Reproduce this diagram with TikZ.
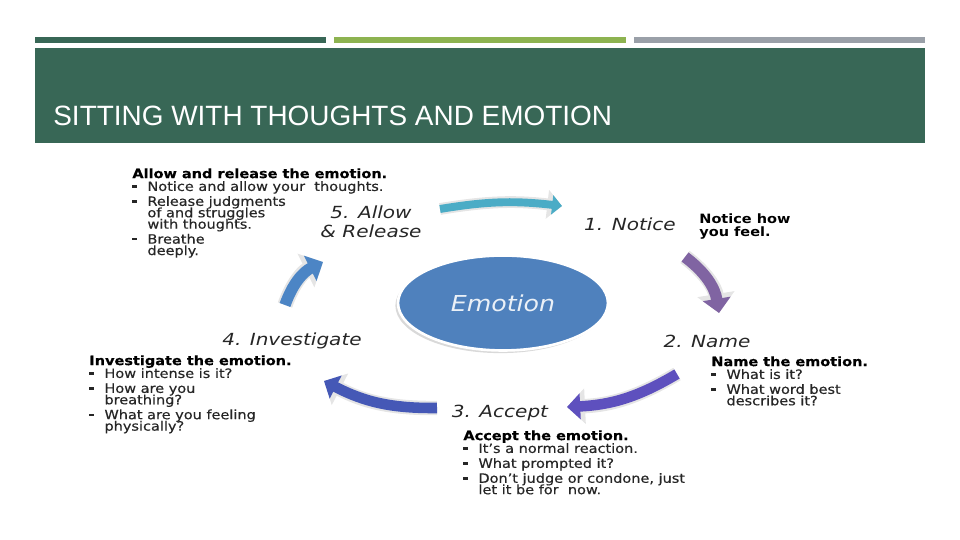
\documentclass[tikz,border=0pt]{standalone}
\usepackage{fontspec}
\setmainfont{DejaVu Sans}
\newfontfamily\titlefont{Liberation Sans}
\newfontfamily\bodyfont[FakeBold=0.4]{DejaVu Sans}
\usetikzlibrary{arrows.meta, shapes.geometric}
\setlength{\lineskiplimit}{-10pt}

\definecolor{banner}{HTML}{386756}
\definecolor{barlime}{HTML}{8DB350}
\definecolor{bargrey}{HTML}{9AA0A8}
\definecolor{emoblue}{HTML}{4F81BD}
\definecolor{tealarr}{HTML}{4BACC6}
\definecolor{purparr}{HTML}{8064A2}
\definecolor{violarr}{HTML}{5E50BE}
\definecolor{indarr}{HTML}{4558B6}
\definecolor{bluearr}{HTML}{4C85C5}

\newcommand{\blt}{\makebox[7.6pt][l]{\raisebox{1.8pt}{\rule{2.1pt}{1.4pt}}}}
\newcommand{\ind}{\hspace*{7.6pt}}
\newcommand{\hdr}[1]{\textbf{\color{black}#1}}

\begin{document}
\begin{tikzpicture}[x=0.02cm, y=0.02cm,
  every node/.style={inner sep=0pt},
  steplabel/.style={font=\fontsize{9.5}{11}\selectfont\itshape, text=black!85,
    align=center, xscale=1.2, transform shape},
  infobox/.style={anchor=north west, align=left, text=black!85,
    font=\bodyfont\fontsize{7.3}{6.5}\selectfont, xscale=1.13, transform shape},
  curvearrow/.style={line width=#1, -{Triangle[length=0pt 1.25, width=0pt 2.4]},
    preaction={draw=black!10, line width=#1+2.2pt}}]
  \useasboundingbox (0,0) rectangle (960,540);

  % banner
  \fill[banner] (35,497) rectangle (326,503);
  \fill[barlime] (334,497) rectangle (626,503);
  \fill[bargrey] (634,497) rectangle (925,503);
  \fill[banner] (35,397) rectangle (925,492);
  \node[anchor=base west, text=white, font=\titlefont\fontsize{15.9}{16}\selectfont]
    (title) at (53,414) {SITTING WITH THOUGHTS AND EMOTION};

  % centre
  \node[ellipse, fill=emoblue, draw=white, line width=1.5pt,
    minimum width=4.2cm, minimum height=1.9cm, text=white!88!emoblue,
    font=\fontsize{12.5}{13}\selectfont\itshape,
    preaction={fill=black!15, transform canvas={shift={(-1.5pt,-1.5pt)}}}]
    (emo) at (503,237) {\scalebox{1.15}[1]{Emotion}};

  % step labels
  \node[steplabel] (notice) at (630,316) {1. Notice};
  \node[steplabel] (name) at (707,199) {2. Name};
  \node[steplabel] (accept) at (500,127) {3. Accept};
  \node[steplabel] (invest) at (292,199) {4. Investigate};
  \node[steplabel] (allow) at (371,318) {5. Allow\\\& Release};

  % text blocks
  \node[infobox, font=\fontsize{7.3}{7.9}\selectfont\bfseries, text=black]
    (noticetxt) at (699,327) {Notice how\\you feel.};
  \node[infobox] (nametxt) at (711,184) {\hdr{Name the emotion.}\\[0.8pt]
    \blt What is it?\\[2pt]
    \blt What word best\\ \ind describes it?};
  \node[infobox] (accepttxt) at (463,110) {\hdr{Accept the emotion.}\\[0.8pt]
    \blt It’s a normal reaction.\\[2pt]
    \blt What prompted it?\\[2pt]
    \blt Don’t judge or condone, just\\ \ind let it be for~ now.};
  \node[infobox] (investtxt) at (89,185) {\hdr{Investigate the emotion.}\\[0.8pt]
    \blt How intense is it?\\[2pt]
    \blt How are you\\ \ind breathing?\\[2pt]
    \blt What are you feeling\\ \ind physically?};
  \node[infobox] (allowtxt) at (132,372) {\hdr{Allow and release the emotion.}\\[0.8pt]
    \blt Notice and allow your~ thoughts.\\[2pt]
    \blt Release judgments\\ \ind of and struggles\\ \ind with thoughts.\\[2pt]
    \blt Breathe\\ \ind deeply.};

  % arrow ends
  \coordinate (a1s) at (440,331);
  \coordinate (a1e) at (562,334);
  \coordinate (a2s) at (685,283);
  \coordinate (a2e) at (719,227);
  \coordinate (a3s) at (677,166);
  \coordinate (a3e) at (567,133);
  \coordinate (a4s) at (437,132);
  \coordinate (a4e) at (324,159);
  \coordinate (a5s) at (285,235);
  \coordinate (a5e) at (323,278);

  \path
    (a1s) edge[curvearrow=4.5pt, tealarr, bend left=8] (a1e)
    (a2s) edge[curvearrow=6.5pt, purparr, bend left=22] (a2e)
    (a3s) edge[curvearrow=6pt, violarr, bend left=14] (a3e)
    (a4s) edge[curvearrow=6pt, indarr, bend left=14] (a4e)
    (a5s) edge[curvearrow=6.5pt, bluearr, bend left=22] (a5e);
\end{tikzpicture}
\end{document}
